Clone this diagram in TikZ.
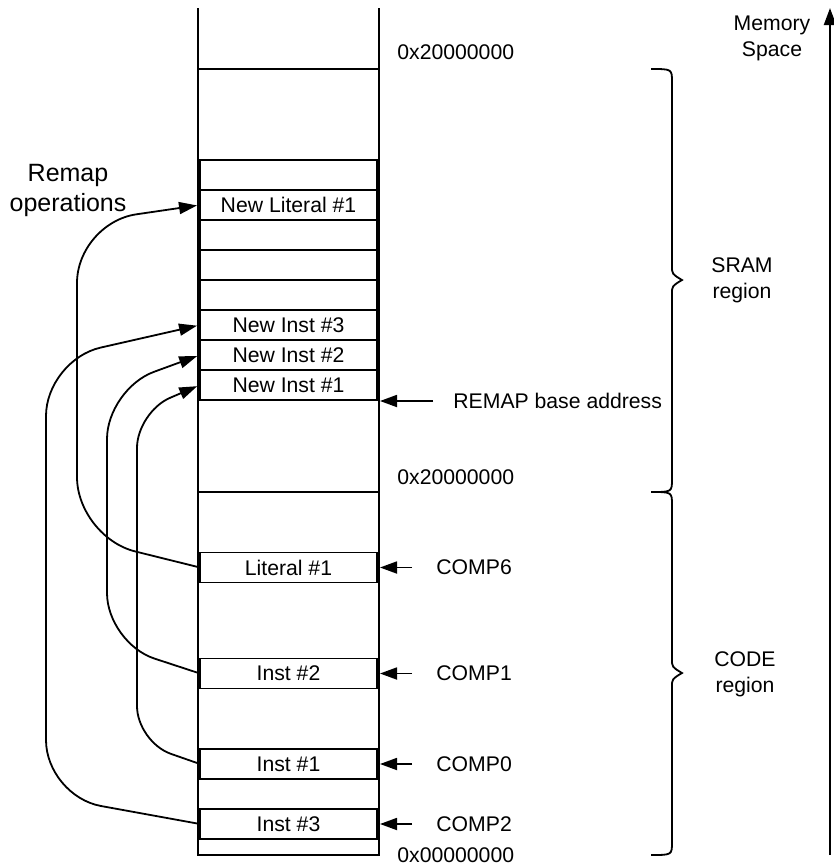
\documentclass[tikz,border=0pt]{standalone}
\usepackage{fontspec}
\setmainfont{Liberation Sans}
\usetikzlibrary{arrows.meta,positioning}
\tikzset{
  memcell/.style={draw,line width=0.9pt,minimum width=88.5pt,minimum height=15pt,inner sep=0pt,outer sep=0pt,font=\fontsize{10.6}{13}\selectfont},
  memtext/.style={inner sep=0pt,align=center,font=\fontsize{10.6}{13}\selectfont},
  memwall/.style={line width=1.1pt},
  memptr/.style={-{Triangle[length=8.5pt,width=6pt]},line width=0.9pt,shorten >=1.5pt},
  remapflow/.style={-{Triangle[length=9pt,width=6pt]},line width=0.9pt,shorten >=1.5pt},
  membrace/.style={line width=0.9pt},
}

\begin{document}
\begin{tikzpicture}[x=0.5pt,y=-0.5pt]
\useasboundingbox (0,0) rectangle (834,864);
% memory column
\draw[memwall] (198,8) -- (198,855) -- (379,855) -- (379,8);
\draw[memwall] (198,69) -- (379,69);
\draw[memwall] (198,492) -- (379,492);
% SRAM cells
\node[memcell] (sram0) at (288.5,175) {};
\node[memcell,below=0pt of sram0] (newlit) {New Literal \#1};
\node[memcell,below=0pt of newlit] (sram2) {};
\node[memcell,below=0pt of sram2] (sram3) {};
\node[memcell,below=0pt of sram3] (sram4) {};
\node[memcell,below=0pt of sram4] (newinst3) {New Inst \#3};
\node[memcell,below=0pt of newinst3] (newinst2) {New Inst \#2};
\node[memcell,below=0pt of newinst2] (newinst1) {New Inst \#1};
% CODE cells
\node[memcell] (lit) at (288.5,567.5) {Literal \#1};
\node[memcell] (inst2) at (288.5,673.5) {Inst \#2};
\node[memcell] (inst1) at (288.5,764) {Inst \#1};
\node[memcell] (inst3) at (288.5,824) {Inst \#3};
% addresses
\node[memtext,anchor=west] (addrtop) at (397,52) {0x20000000};
\node[memtext,anchor=west] (addrmid) at (397,477) {0x20000000};
\node[memtext,anchor=west] (addrlow) at (397,855) {0x00000000};
\node[memtext,anchor=west] (remapbase) at (453,401) {REMAP base address};
\draw[memptr,shorten <=10pt] (remapbase.west) -- (remapbase.west -| newinst1.east);
% comparators
\node[memtext,anchor=west] (comp6) at (436,567.5) {COMP6};
\node[memtext,anchor=west] (comp1) at (436,673.5) {COMP1};
\node[memtext,anchor=west] (comp0) at (436,764) {COMP0};
\node[memtext,anchor=west] (comp2) at (436,824) {COMP2};
\draw[memptr,shorten <=12pt] (comp6.west) -- (lit.east);
\draw[memptr,shorten <=12pt] (comp1.west) -- (inst2.east);
\draw[memptr,shorten <=12pt] (comp0.west) -- (inst1.east);
\draw[memptr,shorten <=12pt] (comp2.west) -- (inst3.east);
% regions
\draw[membrace] (651,69) .. controls (672,69) .. (672,82) -- (672,266)
  .. controls (672,274) .. (682,280) .. controls (672,286) .. (672,294)
  -- (672,479) .. controls (672,492) .. (651,492);
\draw[membrace] (651,492) .. controls (672,492) .. (672,505) -- (672,659)
  .. controls (672,667) .. (682,673) .. controls (672,679) .. (672,687)
  -- (672,842) .. controls (672,855) .. (651,855);
\node[memtext] (sramlbl) at (742,280) {SRAM\\region};
\node[memtext] (codelbl) at (745,674) {CODE\\region};
% address axis
\node[memtext] (spacelbl) at (772,38.5) {Memory\\Space};
\coordinate (spacebot) at (830,855);
\coordinate (spacetop) at (830,8);
\draw[memwall,-{Triangle[length=8.5pt,width=6pt]}] (spacebot) -- (spacetop);
% remap operations
\node[memtext,font=\fontsize{12.5}{15}\selectfont] (remapops) at (68,190) {Remap\\operations};
\draw[remapflow,rounded corners=30pt] (lit.west) -- (77,537) -- (77,223) -- (newlit.west);
\draw[remapflow,rounded corners=25pt] (inst2.west) -- (107,643) -- (107,389) -- (newinst2.west);
\draw[remapflow,rounded corners=18pt] (inst1.west) -- (137,742) -- (137,412) -- (newinst1.west);
\draw[remapflow,rounded corners=28pt] (inst3.west) -- (46,796) -- (46,360) -- (newinst3.west);
\end{tikzpicture}
\end{document}
